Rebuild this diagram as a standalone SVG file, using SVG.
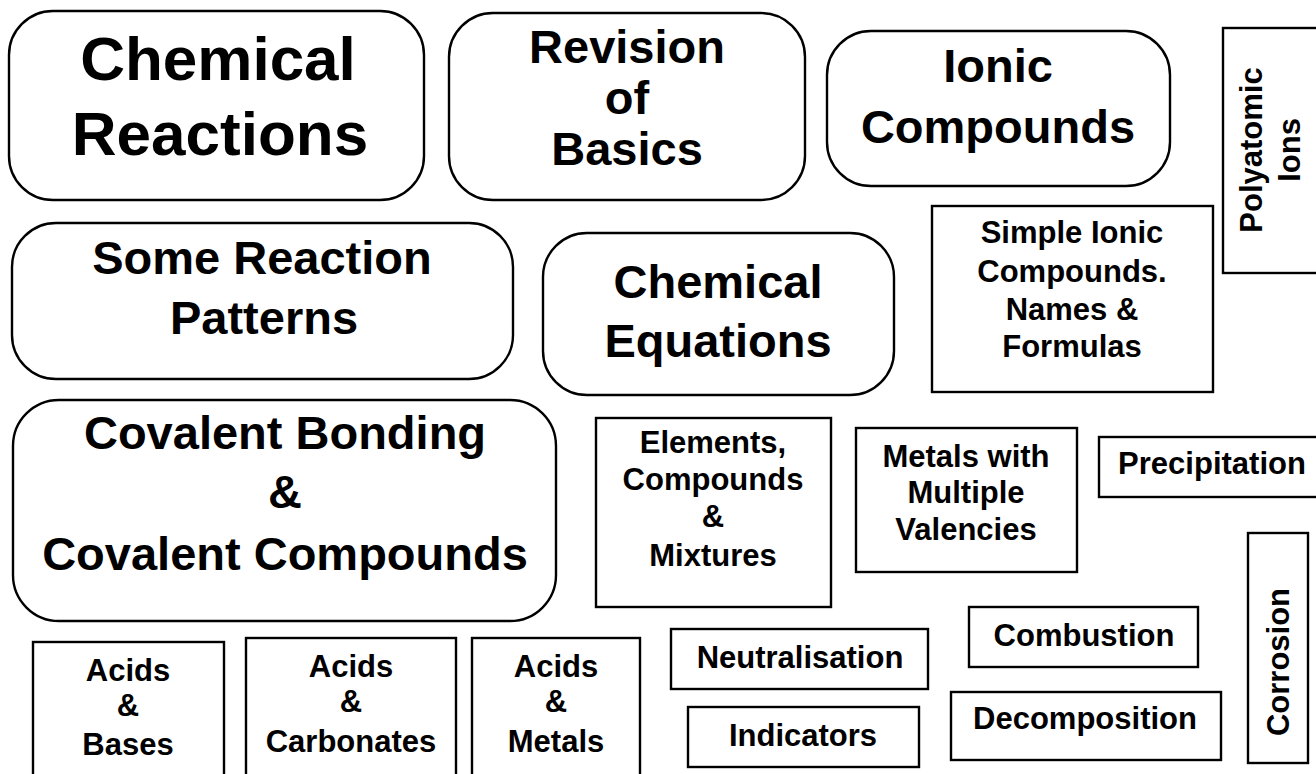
<svg xmlns="http://www.w3.org/2000/svg" width="1316" height="774" viewBox="0 0 1316 774">
<style>
.box{fill:#fff;stroke:#000;stroke-width:2.4}
text{font-family:"Liberation Sans",Arial,sans-serif;font-weight:bold;fill:#000;text-anchor:middle}
.xl{font-size:62px}
.l{font-size:47px}
.s{font-size:31px}
</style>
<rect width="1316" height="774" fill="#fff"/>
<g id="connectors"></g>
<g id="chemical-reactions">
<rect class="box" x="9" y="11" width="415" height="189" rx="44"/>
<text class="xl" x="218" y="80">Chemical</text>
<text class="xl" x="220" y="155">Reactions</text>
</g>
<g id="revision-of-basics">
<rect class="box" x="449" y="13" width="356" height="187" rx="44"/>
<text class="l" x="627" y="63">Revision</text>
<text class="l" x="627" y="114">of</text>
<text class="l" x="627" y="165">Basics</text>
</g>
<g id="ionic-compounds">
<rect class="box" x="827" y="31" width="343" height="155" rx="44"/>
<text class="l" x="998" y="82">Ionic</text>
<text class="l" x="998" y="143">Compounds</text>
</g>
<g id="polyatomic-ions">
<rect class="box" x="1223" y="28" width="110" height="245"/>
<text class="s" transform="translate(1262,150) rotate(-90)">Polyatomic</text>
<text class="s" transform="translate(1300,150) rotate(-90)">Ions</text>
</g>
<g id="some-reaction-patterns">
<rect class="box" x="12" y="223" width="501" height="156" rx="44"/>
<text class="l" x="262" y="274">Some Reaction</text>
<text class="l" x="264" y="334">Patterns</text>
</g>
<g id="chemical-equations">
<rect class="box" x="543" y="233" width="351" height="162" rx="44"/>
<text class="l" x="718" y="298">Chemical</text>
<text class="l" x="718" y="357">Equations</text>
</g>
<g id="simple-ionic-compounds">
<rect class="box" x="932" y="206" width="281" height="186"/>
<text class="s" x="1072" y="243">Simple Ionic</text>
<text class="s" x="1072" y="282">Compounds.</text>
<text class="s" x="1072" y="320">Names &amp;</text>
<text class="s" x="1072" y="357">Formulas</text>
</g>
<g id="covalent-bonding">
<rect class="box" x="13" y="400" width="543" height="221" rx="46"/>
<text class="l" x="285" y="449">Covalent Bonding</text>
<text class="l" x="285" y="508">&amp;</text>
<text class="l" x="285" y="570">Covalent Compounds</text>
</g>
<g id="elements-compounds-mixtures">
<rect class="box" x="596" y="418" width="235" height="189"/>
<text class="s" x="713" y="453">Elements,</text>
<text class="s" x="713" y="490">Compounds</text>
<text class="s" x="713" y="527">&amp;</text>
<text class="s" x="713" y="566">Mixtures</text>
</g>
<g id="metals-multiple-valencies">
<rect class="box" x="856" y="428" width="221" height="144"/>
<text class="s" x="966" y="467">Metals with</text>
<text class="s" x="966" y="503">Multiple</text>
<text class="s" x="966" y="540">Valencies</text>
</g>
<g id="precipitation">
<rect class="box" x="1099" y="437" width="230" height="60"/>
<text class="s" x="1212" y="474">Precipitation</text>
</g>
<g id="corrosion">
<rect class="box" x="1248" y="533" width="60" height="230"/>
<text class="s" transform="translate(1289,662) rotate(-90)">Corrosion</text>
</g>
<g id="combustion">
<rect class="box" x="969" y="607" width="229" height="60"/>
<text class="s" x="1084" y="646">Combustion</text>
</g>
<g id="decomposition">
<rect class="box" x="951" y="692" width="270" height="68"/>
<text class="s" x="1085" y="729">Decomposition</text>
</g>
<g id="neutralisation">
<rect class="box" x="671" y="629" width="257" height="60"/>
<text class="s" x="800" y="668">Neutralisation</text>
</g>
<g id="indicators">
<rect class="box" x="688" y="707" width="231" height="60"/>
<text class="s" x="803" y="746">Indicators</text>
</g>
<g id="acids-bases">
<rect class="box" x="33" y="642" width="191" height="150"/>
<text class="s" x="128" y="681">Acids</text>
<text class="s" x="128" y="716">&amp;</text>
<text class="s" x="128" y="755">Bases</text>
</g>
<g id="acids-carbonates">
<rect class="box" x="246" y="638" width="210" height="150"/>
<text class="s" x="351" y="677">Acids</text>
<text class="s" x="351" y="712">&amp;</text>
<text class="s" x="351" y="752">Carbonates</text>
</g>
<g id="acids-metals">
<rect class="box" x="472" y="638" width="168" height="150"/>
<text class="s" x="556" y="677">Acids</text>
<text class="s" x="556" y="712">&amp;</text>
<text class="s" x="556" y="752">Metals</text>
</g>
</svg>
